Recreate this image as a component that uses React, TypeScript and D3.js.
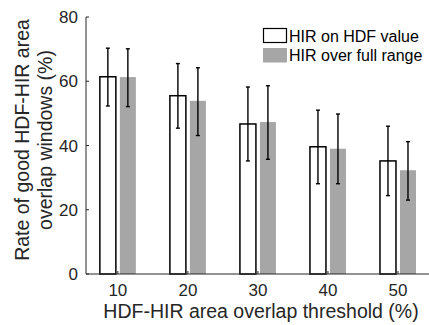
import React from "react";
import * as d3 from "d3";

const thresholds = [10, 20, 30, 40, 50];
const seriesNames = ["HIR on HDF value", "HIR over full range"];
const onHdfMean = [61.4, 55.5, 46.7, 39.6, 35.2];
const onHdfHi = [70.3, 65.5, 58.2, 51.0, 46.0];
const onHdfLo = [52.3, 45.4, 35.2, 28.1, 24.4];
const fullMean = [61.3, 53.9, 47.3, 39.0, 32.3];
const fullHi = [70.1, 64.2, 58.6, 49.8, 41.2];
const fullLo = [52.1, 43.1, 35.7, 28.1, 23.0];
const yTicks = [0, 20, 40, 60, 80];

const W = 429;
const H = 325;
const FONT = "'Liberation Sans', Arial, Helvetica, sans-serif";
const AXIS = "#262626";
const GRAY = "#a6a6a6";

const App = () => {
  const x = d3.scaleLinear().domain([5.45, 55]).range([86, 433]);
  const y = d3.scaleLinear().domain([0, 80]).range([274, 17]);
  const barW = 16;
  const off = 10;

  const series = [
    { mean: onHdfMean, hi: onHdfHi, lo: onHdfLo, dx: -off, fill: "#fff", stroke: "#000" },
    { mean: fullMean, hi: fullHi, lo: fullLo, dx: off, fill: GRAY, stroke: "none" },
  ];

  return (
    <svg
      width={W}
      height={H}
      style={{ position: "absolute", left: 0, top: 0, background: "#fff" }}
      fontFamily={FONT}
    >
      {series.map((s, si) =>
        thresholds.map((t, i) => {
          const cx = x(t) + s.dx;
          return (
            <rect
              key={`${si}-${i}`}
              x={cx - barW / 2}
              y={y(s.mean[i])}
              width={barW}
              height={y(0) - y(s.mean[i])}
              fill={s.fill}
              stroke={s.stroke}
              strokeWidth={1.5}
            />
          );
        })
      )}
      {series.map((s, si) =>
        thresholds.map((t, i) => {
          const cx = x(t) + s.dx;
          return (
            <g key={`e${si}-${i}`} stroke="#000" strokeWidth={1.4}>
              <line x1={cx} x2={cx} y1={y(s.hi[i])} y2={y(s.lo[i])} />
              <line x1={cx - 2} x2={cx + 2} y1={y(s.hi[i])} y2={y(s.hi[i])} />
              <line x1={cx - 2} x2={cx + 2} y1={y(s.lo[i])} y2={y(s.lo[i])} />
            </g>
          );
        })
      )}
      {/* axes */}
      <g stroke={AXIS} strokeWidth={1}>
        <line x1={86} x2={86} y1={y(80)} y2={y(0)} />
        <line x1={86} x2={W} y1={y(0)} y2={y(0)} />
        {yTicks.map((v) => (
          <line key={v} x1={86} x2={89} y1={y(v)} y2={y(v)} />
        ))}
        {thresholds.map((t) => (
          <line key={t} x1={x(t)} x2={x(t)} y1={y(0)} y2={y(0) - 3} />
        ))}
      </g>
      <g fill={AXIS} fontSize={17}>
        {yTicks.map((v) => (
          <text key={v} x={78} y={y(v)} dy="0.36em" textAnchor="end">
            {v}
          </text>
        ))}
        {thresholds.map((t) => (
          <text key={t} x={x(t)} y={296} textAnchor="middle">
            {t}
          </text>
        ))}
      </g>
      <text x={261} y={318} textAnchor="middle" fontSize={19.5} fill={AXIS}>
        HDF-HIR area overlap threshold (%)
      </text>
      <g transform="translate(0,140) rotate(-90)" fontSize={19.5} fill={AXIS} textAnchor="middle">
        <text x={0} y={29}>Rate of good HDF-HIR area</text>
        <text x={0} y={52}>overlap windows (%)</text>
      </g>
      {/* legend */}
      <g fontSize={16} fill="#000">
        <rect x={263.5} y={28.5} width={23} height={14} fill="#fff" stroke="#000" strokeWidth={1.2} />
        <text x={289} y={41.5}>{seriesNames[0]}</text>
        <rect x={263} y={48} width={24} height={14.5} fill={GRAY} />
        <text x={289} y={60.5}>{seriesNames[1]}</text>
      </g>
    </svg>
  );
};

export default App;
